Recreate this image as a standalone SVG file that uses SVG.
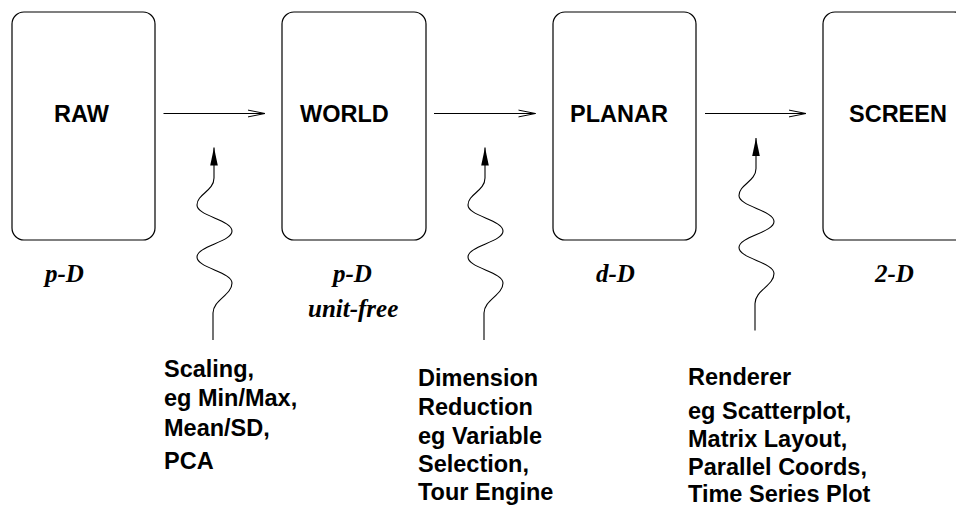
<svg xmlns="http://www.w3.org/2000/svg" width="956" height="506" viewBox="0 0 956 506">
<style>
.box{fill:#fff;stroke:#000;stroke-width:1.2}
.lbl{font-family:"Liberation Sans",Arial,sans-serif;font-weight:bold;font-size:23.5px;fill:#000}
.dim{font-family:"Liberation Serif","Times New Roman",serif;font-weight:bold;font-style:italic;font-size:25px;fill:#000}
.txt{font-family:"Liberation Sans",Arial,sans-serif;font-weight:bold;font-size:23.5px;fill:#000}
.conn{fill:none;stroke:#000;stroke-width:1}
.wave{fill:none;stroke:#000;stroke-width:1.1;marker-end:url(#solid)}
.flow{marker-end:url(#open)}
</style>
<defs>
<marker id="open" markerUnits="userSpaceOnUse" markerWidth="20" markerHeight="10" refX="17" refY="3.4" orient="auto" overflow="visible">
<path d="M0,0 L17,3.4 L0,6.8" fill="none" stroke="#000" stroke-width="1"/>
</marker>
<marker id="solid" markerUnits="userSpaceOnUse" markerWidth="20" markerHeight="10" refX="18" refY="3.8" orient="auto" overflow="visible">
<path d="M0,0 L18,3.8 L0,7.6 Z" fill="#000"/>
</marker>
<path id="wv" d="M213,340 L213,313 C213,300 232,295 232,283 C232,272 197,268 197,257 C197,246 232,242 232,231 C232,220 197,216 197,205 C197,194 214,191 214,178 L214,147.5"/>
</defs>
<rect width="956" height="506" fill="#fff"/>
<g id="raw">
<rect class="box" x="12" y="12" width="143" height="228" rx="12"/>
<text class="lbl" x="54" y="122">RAW</text>
<text class="dim" x="45" y="282">p-D</text>
</g>
<g id="world">
<rect class="box" x="282" y="12" width="144" height="228" rx="12"/>
<text class="lbl" x="300" y="122">WORLD</text>
<text class="dim" x="333" y="282">p-D</text>
<text class="dim" x="308" y="317">unit-free</text>
</g>
<g id="planar">
<rect class="box" x="553" y="12" width="143" height="228" rx="12"/>
<text class="lbl" x="570" y="122">PLANAR</text>
<text class="dim" x="596" y="282">d-D</text>
</g>
<g id="screen">
<rect class="box" x="823" y="12" width="143" height="228" rx="12"/>
<text class="lbl" x="849" y="122">SCREEN</text>
<text class="dim" x="875" y="282">2-D</text>
</g>
<g id="scaling">
<text class="txt" x="164" y="377">Scaling,</text>
<text class="txt" x="164" y="406">eg Min/Max,</text>
<text class="txt" x="164" y="436">Mean/SD,</text>
<text class="txt" x="164" y="469">PCA</text>
</g>
<g id="reduction">
<text class="txt" x="418" y="386">Dimension</text>
<text class="txt" x="418" y="415">Reduction</text>
<text class="txt" x="418" y="444">eg Variable</text>
<text class="txt" x="418" y="472">Selection,</text>
<text class="txt" x="418" y="500">Tour Engine</text>
</g>
<g id="renderer">
<text class="txt" x="688" y="385">Renderer</text>
<text class="txt" x="688" y="419">eg Scatterplot,</text>
<text class="txt" x="688" y="447">Matrix Layout,</text>
<text class="txt" x="688" y="475">Parallel Coords,</text>
<text class="txt" x="688" y="502">Time Series Plot</text>
</g>
<g id="connectors">
<line class="conn flow" x1="163.5" y1="113.5" x2="265" y2="113.5"/>
<line class="conn flow" x1="434" y1="113.5" x2="535.5" y2="113.5"/>
<line class="conn flow" x1="705" y1="113.5" x2="806" y2="113.5"/>
<use href="#wv" class="wave"/>
<use href="#wv" class="wave" transform="translate(271,0)"/>
<use href="#wv" class="wave" transform="translate(542,-9.5)"/>
</g>
</svg>
